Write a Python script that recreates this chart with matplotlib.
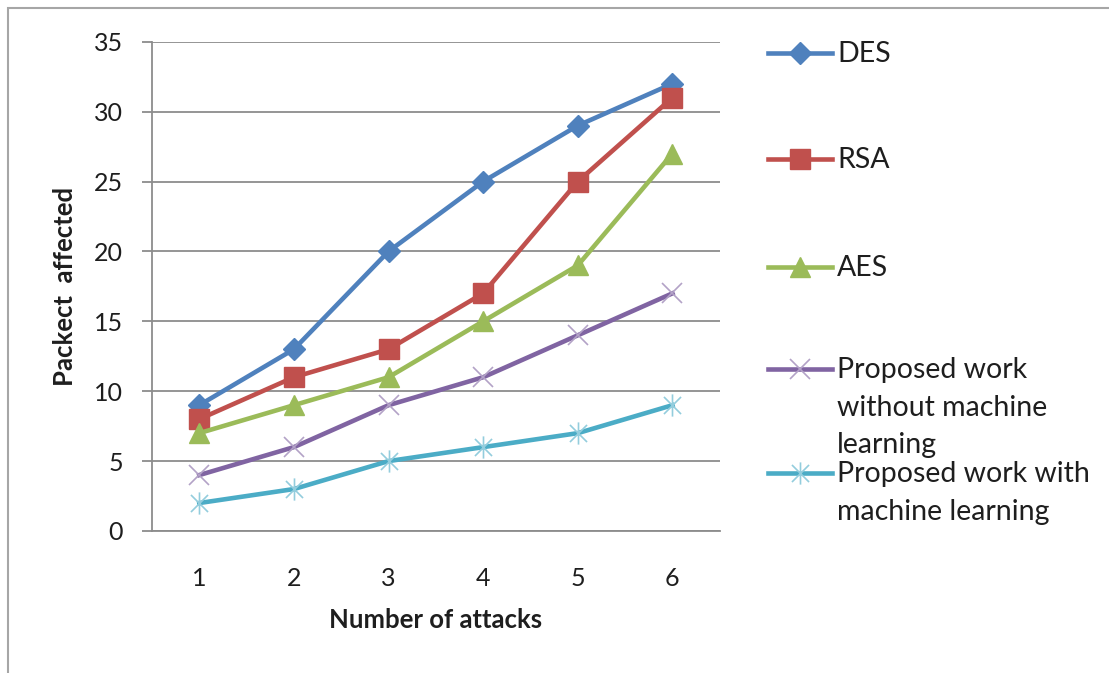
import matplotlib
matplotlib.use('Agg')
import matplotlib.pyplot as plt
from matplotlib.lines import Line2D
from matplotlib.patches import Rectangle
from matplotlib.path import Path

plt.rcParams['font.family'] = ['Lato', 'DejaVu Sans']

# Data
attacks = [1, 2, 3, 4, 5, 6]
des = [9, 13, 20, 25, 29, 32]
rsa = [8, 11, 13, 17, 25, 31]
aes = [7, 9, 11, 15, 19, 27]
proposed_no_ml = [4, 6, 9, 11, 14, 17]
proposed_ml = [2, 3, 5, 6, 7, 9]
y_ticks = [0, 5, 10, 15, 20, 25, 30, 35]

# asterisk marker: an x with a vertical bar through it
star_path = Path([(-1, -1), (1, 1), (-1, 1), (1, -1), (0, -1.3), (0, 1.3)],
                 [Path.MOVETO, Path.LINETO, Path.MOVETO, Path.LINETO, Path.MOVETO, Path.LINETO])

series = [
    ('DES', des, '#4F81BD', dict(marker='D', markersize=11, markerfacecolor='#4F81BD', markeredgecolor='#4F81BD')),
    ('RSA', rsa, '#C0504D', dict(marker='s', markersize=14, markerfacecolor='#C0504D', markeredgecolor='#C0504D')),
    ('AES', aes, '#9BBB59', dict(marker='^', markersize=15, markerfacecolor='#9BBB59', markeredgecolor='#9BBB59')),
    ('Proposed work\nwithout machine\nlearning', proposed_no_ml, '#8064A2',
     dict(marker='x', markersize=15, markeredgecolor='#B3A2C7', markeredgewidth=1.2)),
    ('Proposed work with\nmachine learning', proposed_ml, '#4BACC6',
     dict(marker=star_path, markersize=16, markeredgecolor='#93CDDD', markeredgewidth=1.2)),
]

text_color = '#1E1E1E'

fig = plt.figure(figsize=(11.09, 6.73), dpi=100)
ax = fig.add_axes([0.137, 0.211, 0.512, 0.727])

for label, vals, color, mk in series:
    ax.plot(attacks, vals, color=color, linewidth=3.3, **mk)

ax.set_xlim(0.5, 6.5)
ax.set_ylim(0, 35)
ax.set_yticks(y_ticks)
ax.set_xticks(attacks)
ax.yaxis.grid(True, color='#8C8C8C', linewidth=1.3)
ax.set_axisbelow(True)
for s in ['top', 'right']:
    ax.spines[s].set_visible(False)
for s in ['left', 'bottom']:
    ax.spines[s].set_color('#8C8C8C')
    ax.spines[s].set_linewidth(1.3)
ax.tick_params(axis='y', direction='out', length=7, width=1.3, color='#8C8C8C',
               labelsize=18, labelcolor=text_color, pad=14)
ax.tick_params(axis='x', length=0, labelsize=18, labelcolor=text_color, pad=26)
ax.set_ylabel('Packect  affected', fontsize=18.5, fontweight='bold', labelpad=12, color=text_color)
ax.set_xlabel('Number of attacks', fontsize=18.5, fontweight='bold', labelpad=13, color=text_color)

# legend drawn at the right, first line of each label level with its key
legend_y = [53, 159, 267, 369, 473]
for (label, vals, color, mk), ypx in zip(series, legend_y):
    yf = 1 - ypx / 673
    fig.add_artist(Line2D([768 / 1109, 832 / 1109], [yf, yf], color=color, linewidth=3.3,
                          transform=fig.transFigure))
    fig.add_artist(Line2D([800 / 1109], [yf], color=color, linestyle='none',
                          transform=fig.transFigure, **mk))
    fig.text(837 / 1109, 1 - (ypx - 12) / 673, label, fontsize=20.5, color=text_color,
             va='top', linespacing=1.55, transform=fig.transFigure)

# outer chart border
fig.add_artist(Rectangle((8 / 1109, -0.1), 1.2, 1.1 - 8 / 673, fill=False,
                         edgecolor='#A6A6A6', linewidth=1.5, transform=fig.transFigure))

fig.savefig('out.png', dpi=100)
